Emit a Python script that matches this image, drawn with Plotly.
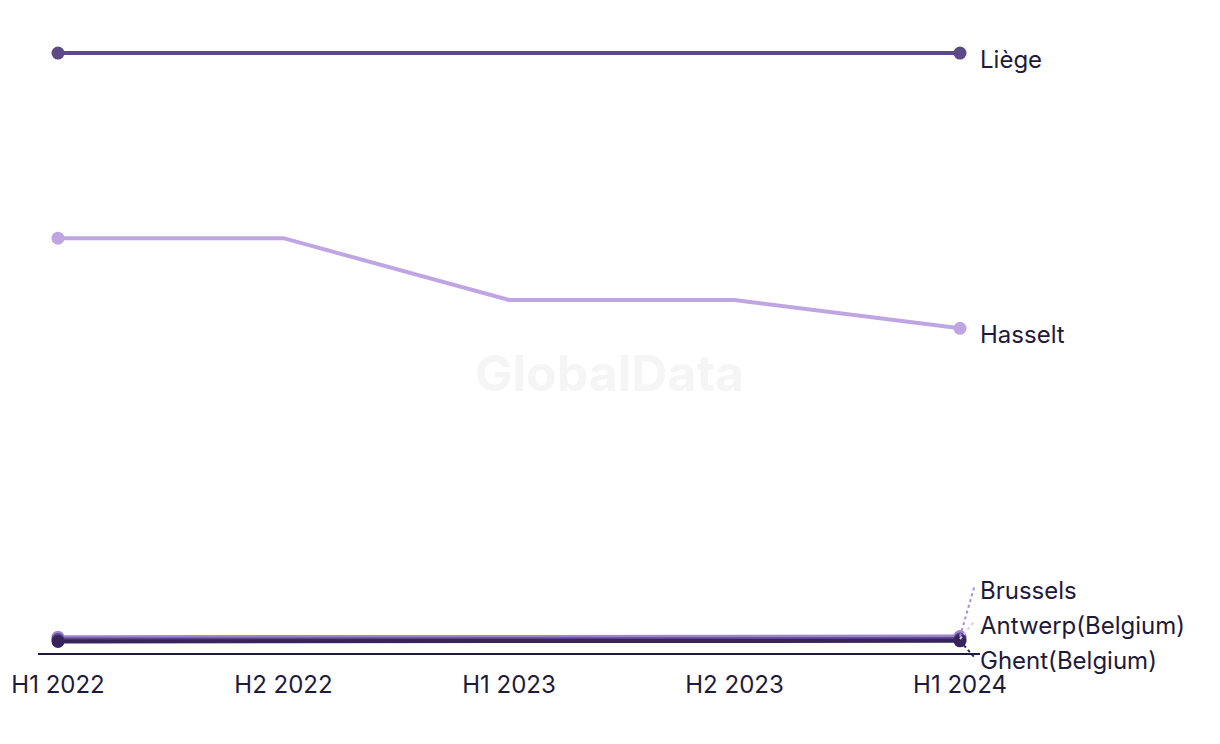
import plotly.graph_objects as go

periods = ["H1 2022", "H2 2022", "H1 2023", "H2 2023", "H1 2024"]
liege = [100, 100, 100, 100, 100]
hasselt = [69.2, 69.2, 58.9, 58.9, 54.2]
brussels = [2.8, 2.8, 2.9, 2.9, 2.9]
antwerp = [2.4, 2.4, 2.5, 2.5, 2.5]
ghent = [2.1, 2.1, 2.2, 2.2, 2.2]

series = [
    ("Liège", liege, "#5c4a86", 0.0),
    ("Hasselt", hasselt, "#c0a5e3", 0.0),
    ("Brussels", brussels, "#9d85cc", 10.6),
    ("Antwerp(Belgium)", antwerp, "#5e4890", 4.7),
    ("Ghent(Belgium)", ghent, "#36245a", -1.0),
]
connector_colors = {"Brussels": "#a58fd4", "Antwerp(Belgium)": "#d8ccef", "Ghent(Belgium)": "#36245a"}

xs = list(range(len(periods)))
fig = go.Figure()
for name, vals, color, _ in series:
    fig.add_trace(go.Scatter(
        x=xs, y=vals, mode="lines", name=name,
        line=dict(color=color, width=4),
        hoverinfo="skip", showlegend=False,
    ))
    fig.add_trace(go.Scatter(
        x=[xs[0], xs[-1]], y=[vals[0], vals[-1]], mode="markers", name=name,
        marker=dict(size=13, color=color, opacity=1, line=dict(width=0)),
        hoverinfo="skip", showlegend=False,
    ))

font = "Inter, 'Liberation Sans', sans-serif"
text_col = "#1e1a3a"
last = xs[-1]
for name, vals, color, label_y in series:
    if name in ("Liège", "Hasselt"):
        fig.add_annotation(x=last, y=vals[-1], xref="x", yref="y", text=name,
                           showarrow=False, xanchor="left", yanchor="middle",
                           xshift=18, yshift=-6,
                           font=dict(family=font, size=24, color=text_col))
    else:
        fig.add_annotation(x=last, y=label_y, xref="x", yref="y", text=name,
                           showarrow=False, xanchor="left", yanchor="middle",
                           xshift=18,
                           font=dict(family=font, size=24, color=text_col))
        fig.add_shape(type="line", xref="x", yref="y",
                      x0=last, y0=vals[-1], x1=last + 0.065,
                      y1=label_y + (0.8 if label_y > vals[-1] else 0.4),
                      line=dict(color=connector_colors[name], width=2, dash="dot"))

# baseline
fig.add_shape(type="line", xref="paper", yref="y", x0=0, x1=1, y0=0, y1=0,
              line=dict(color=text_col, width=2))

fig.add_annotation(x=0.607, y=0.452, xref="paper", yref="paper", text="<b>GlobalData</b>",
                   showarrow=False, font=dict(family=font, size=50, color="#f5f5f5"))

fig.update_layout(
    width=1220, height=744,
    margin=dict(l=30, r=248, t=12, b=88, autoexpand=False),
    paper_bgcolor="white", plot_bgcolor="white",
    xaxis=dict(range=[-0.0887, 4.0887], tickmode="array", tickvals=xs, ticktext=periods,
               showgrid=False, zeroline=False, showline=False, ticks="",
               automargin=False, ticklabelstandoff=4,
               tickfont=dict(family=font, size=24, color=text_col)),
    yaxis=dict(range=[-1.66, 105.5], visible=False, showgrid=False, zeroline=False,
               automargin=False),
)
fig.write_html("out.html")
